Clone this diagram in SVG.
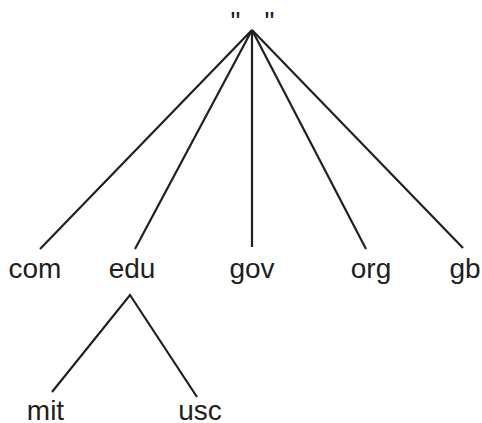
<svg xmlns="http://www.w3.org/2000/svg" width="482" height="423" viewBox="0 0 482 423">
<style>
text{font-family:"Liberation Sans",Arial,sans-serif;font-size:28px;fill:#231f20;text-anchor:middle}
.e{stroke:#231f20;stroke-width:2.2;fill:none;stroke-linecap:butt;stroke-linejoin:miter}
</style>
<rect width="482" height="423" fill="#fff"/>
<g id="connectors">
<path class="e" d="M40,249 L252,30 L135,249"/>
<path class="e" d="M252,30 L252,247"/>
<path class="e" d="M252,30 L366,249"/>
<path class="e" d="M252,30 L463,248"/>
<path class="e" d="M52,392 L130,295 L197,397"/>
</g>
<g id="root"><text x="235.5" y="30.5">"</text><text x="269.5" y="30.5">"</text></g>
<g id="com"><text x="35" y="278">com</text></g>
<g id="edu"><text x="132" y="278">edu</text></g>
<g id="gov"><text x="252" y="278">gov</text></g>
<g id="org"><text x="371" y="278">org</text></g>
<g id="gb"><text x="465" y="278">gb</text></g>
<g id="mit"><text x="45.5" y="420">mit</text></g>
<g id="usc"><text x="200" y="420">usc</text></g>
</svg>
